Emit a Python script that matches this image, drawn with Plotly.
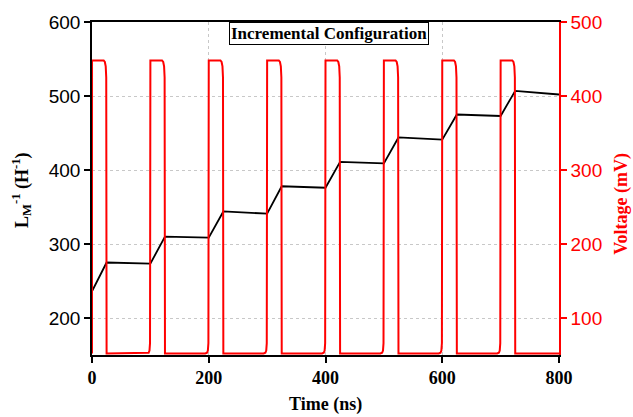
import plotly.graph_objects as go

# L_M^-1 (H^-1) vs time
lm_time_ns = [0, 25, 100, 125, 200, 225, 300, 325, 400, 425, 500, 525, 600, 625, 700, 725, 800]
lm_inv = [236, 275, 273.5, 310, 308.5, 344, 341, 378, 376, 411, 409, 444, 441, 475, 473, 507, 502]

# Voltage pulse waveform (mV) vs time
voltage_time_ns = [
    0, 0.05, 20, 22, 23.5, 24.4, 25,
    94, 97, 98.5, 99.4, 100, 120, 122, 123.5, 124.4, 125,
    194, 197, 198.5, 199.4, 200, 220, 222, 223.5, 224.4, 225,
    294, 297, 298.5, 299.4, 300, 320, 322, 323.5, 324.4, 325,
    394, 397, 398.5, 399.4, 400, 420, 422, 423.5, 424.4, 425,
    494, 497, 498.5, 499.4, 500, 520, 522, 523.5, 524.4, 525,
    594, 597, 598.5, 599.4, 600, 620, 622, 623.5, 624.4, 625,
    694, 697, 698.5, 699.4, 700, 720, 722, 723.5, 724.4, 725,
    800,
]
voltage_mv = [
    52, 448, 448, 446, 440, 425, 52,
    52, 53, 56, 66, 448, 448, 446, 440, 425, 52,
    52, 53, 56, 66, 448, 448, 446, 440, 425, 52,
    52, 53, 56, 66, 448, 448, 446, 440, 425, 52,
    52, 53, 56, 66, 448, 448, 446, 440, 425, 52,
    52, 53, 56, 66, 448, 448, 446, 440, 425, 52,
    52, 53, 56, 66, 448, 448, 446, 440, 425, 52,
    52, 53, 56, 66, 448, 448, 446, 440, 425, 52,
    52,
]

x_ticks = [0, 200, 400, 600, 800]
y_ticks = [200, 300, 400, 500, 600]
y2_ticks = [100, 200, 300, 400, 500]

fig = go.Figure()
fig.add_trace(go.Scatter(x=lm_time_ns, y=lm_inv, mode="lines",
                         line=dict(color="black", width=1.8), yaxis="y", showlegend=False))
fig.add_trace(go.Scatter(x=voltage_time_ns, y=voltage_mv, mode="lines",
                         line=dict(color="#ff0000", width=2), yaxis="y2", showlegend=False))

grid = dict(showgrid=True, gridcolor="#c8c8c8", gridwidth=1, griddash="3px,3px")

fig.update_layout(
    width=633, height=417,
    margin=dict(l=92, r=74, t=16, b=62),
    paper_bgcolor="white", plot_bgcolor="white",
    xaxis=dict(range=[0, 800], tickvals=x_ticks, ticks="outside", ticklen=6, tickwidth=1.5,
               tickcolor="black", showline=True, linecolor="black", linewidth=1.5, mirror=True,
               zeroline=False,
               tickfont=dict(family="Liberation Serif", size=18, color="black", weight="bold"),
               **grid),
    yaxis=dict(range=[150, 600], tickvals=y_ticks, ticks="outside", ticklen=6, tickwidth=1.5,
               tickcolor="black", showline=True, linecolor="black", linewidth=1.5,
               zeroline=False,
               tickfont=dict(family="Liberation Sans", size=19, color="black"),
               **grid),
    yaxis2=dict(range=[50, 500], tickvals=y2_ticks, overlaying="y", side="right",
                ticks="outside", ticklen=6, tickwidth=1.5, tickcolor="#ff0000",
                showline=True, linecolor="#ff0000", linewidth=1.5, showgrid=False, zeroline=False,
                tickfont=dict(family="Liberation Sans", size=19, color="#ff0000")),
    annotations=[
        dict(text="<b>Incremental Configuration</b>", xref="paper", yref="paper",
             x=0.5075, y=1, xanchor="center", yanchor="top", showarrow=False,
             font=dict(family="Liberation Serif", size=17, color="black"),
             bordercolor="black", borderwidth=1, borderpad=1, bgcolor="white"),
        dict(text="<b>Time (ns)</b>", xref="paper", yref="paper", x=0.501, y=-0.150,
             xanchor="center", yanchor="middle", showarrow=False,
             font=dict(family="Liberation Serif", size=18, color="black")),
        dict(text="<b>L<sub>M</sub><sup>-1</sup> (H<sup>-1</sup>)</b>", xref="paper", yref="paper",
             x=-0.150, y=0.4956, xanchor="center", yanchor="middle", textangle=-90, showarrow=False,
             font=dict(family="Liberation Serif", size=18, color="black")),
        dict(text="<b>Voltage (mV)</b>", xref="paper", yref="paper", x=1.1349, y=0.454,
             xanchor="center", yanchor="middle", textangle=-90, showarrow=False,
             font=dict(family="Liberation Serif", size=18, color="#ff0000")),
    ],
)

fig.write_html("out.html")
